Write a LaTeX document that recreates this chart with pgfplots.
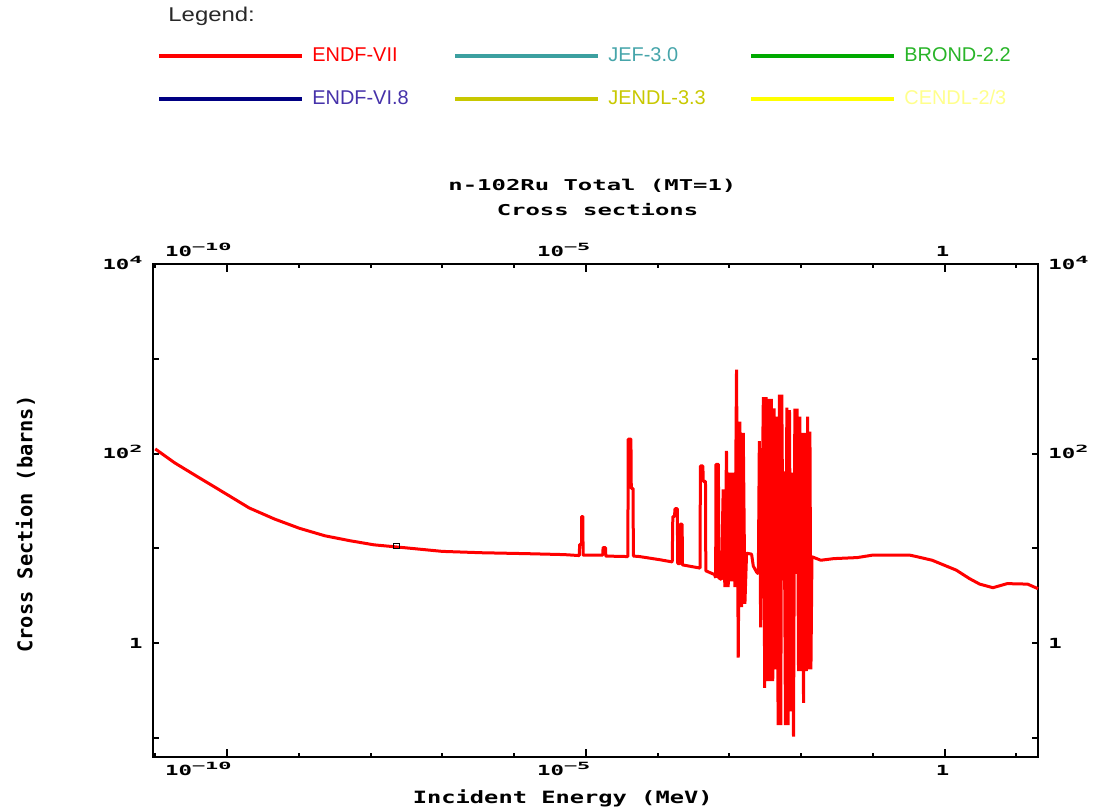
\documentclass[border=0pt]{standalone}
\usepackage{pgfplots}
\pgfplotsset{compat=1.18}
\usepackage{fontspec}
\setmainfont{Liberation Sans}
\newfontfamily\bmfont[FakeStretch=1.6]{DejaVu Sans Mono}
\newfontfamily\bmfontx[FakeStretch=1.4]{DejaVu Sans Mono}
\newfontfamily\bmsup[FakeStretch=2.2]{DejaVu Sans Mono}
\newfontfamily\ylabfont{DejaVu Sans Mono}
\newfontfamily\legwide[FakeStretch=1.2]{Liberation Sans}
\newcommand\tickfont{\bmfont\bfseries\fontsize{7}{8}\selectfont}
\newcommand\sups[1]{\raisebox{3bp}{\bmsup\bfseries\fontsize{5}{6}\selectfont #1}}
\definecolor{endfvii}{RGB}{255,0,0}
\definecolor{jefl}{RGB}{60,160,160}
\definecolor{jeft}{RGB}{70,165,170}
\definecolor{brondl}{RGB}{0,170,0}
\definecolor{brondt}{RGB}{40,180,40}
\definecolor{endfvil}{RGB}{0,0,130}
\definecolor{endfvit}{RGB}{70,50,170}
\definecolor{jendl}{RGB}{200,200,0}
\definecolor{cendll}{RGB}{255,255,0}
\definecolor{cendlt}{RGB}{255,255,140}
\definecolor{leggray}{RGB}{40,40,40}
\pgfplotsset{legend image code/.code={\draw[#1, line width=2bp] (0bp,0bp) -- (71.5bp,0bp);}}
\begin{document}
\begin{tikzpicture}
\useasboundingbox (0,0) rectangle (547.5bp,-403.5bp);
\begin{axis}[
  at={(76.5bp,-378.5bp)}, anchor=south west,
  scale only axis, width=442.5bp, height=246.5bp,
  xmode=log, ymode=log,
  xmin=9.3e-12, xmax=20, ymin=0.063, ymax=1e4,
  xtick={1e-10,1e-5,1}, xticklabels={10\sups{−10},10\sups{−5},1},
  ytick={0.1,1,10,100,1000,10000}, yticklabels={,1,,10\sups{2},,10\sups{4}},
  minor xtick={1e-11,1e-9,1e-8,1e-7,1e-6,1e-4,1e-3,1e-2,1e-1,10},
  yminorticks=false,
  axis line style={line width=1bp, black},
  tick style={black, line width=1bp},
  major tick length=4bp, minor tick length=2.2bp,
  ytick style={/pgfplots/major tick length=3.2bp},
  tick label style={font=\tickfont, inner sep=0pt},
  xticklabel pos=upper, yticklabel pos=right,
  xticklabel style={anchor=base east, xshift=2.5bp, yshift=4bp},
  yticklabel style={anchor=base west, xshift=5bp, yshift=-2.5bp},
]
\addplot[draw=none, forget plot] coordinates {(1e-6,1)};
\end{axis}
\begin{axis}[
  at={(76.5bp,-378.5bp)}, anchor=south west,
  scale only axis, width=442.5bp, height=246.5bp,
  xmode=log, ymode=log,
  xmin=9.3e-12, xmax=20, ymin=0.063, ymax=1e4,
  xtick={1e-10,1e-5,1}, xticklabels={10\sups{−10},10\sups{−5},1},
  ytick={0.1,1,10,100,1000,10000}, yticklabels={,1,,10\sups{2},,10\sups{4}},
  minor xtick={1e-11,1e-9,1e-8,1e-7,1e-6,1e-4,1e-3,1e-2,1e-1,10},
  yminorticks=false,
  axis line style={line width=1bp, black},
  tick style={black, line width=1bp},
  major tick length=4bp, minor tick length=2.2bp,
  ytick style={/pgfplots/major tick length=3.2bp},
  tick label style={font=\tickfont, inner sep=0pt},
  clip=false,
  xticklabel style={anchor=base east, xshift=2.5bp, yshift=-9bp},
  yticklabel style={anchor=base east, xshift=-5bp, yshift=-2.5bp},
  xlabel={Incident Energy (MeV)},
  xlabel style={font=\bmfontx\bfseries\fontsize{8.5}{10}\selectfont, at={(axis description cs:0.463,0)}, anchor=base, yshift=-23bp},
  ylabel={Cross Section (barns)},
  ylabel style={font=\ylabfont\bfseries\fontsize{10.2}{12}\selectfont, at={(axis description cs:-0.1364,0.4726)}, anchor=base},
  legend columns=3,
  legend style={at={(axis description cs:0.0045,1.440)}, anchor=north west, draw=none, fill=none, inner sep=0pt, column sep=4bp, row sep=12.8bp, font=\fontsize{10}{12}\selectfont, nodes={inner sep=0pt}},
]
\addplot[endfvii, line width=1.5bp, line join=bevel] coordinates {
(1e-11,112) (1.86e-11,80) (4.1e-11,55.6) (9.2e-11,38.5) (2.04e-10,26.7) (4.6e-10,20.4) (1.02e-9,16.3) (2.3e-9,13.6) (5e-9,12.1) (1.12e-8,10.9) (2.5e-8,10.3) (1e-7,9.3) (3.5e-7,9.0) (1.5e-6,8.8) (5e-6,8.6)
(8.1e-6,8.4) (8.2e-6,11) (8.7e-6,11) (8.75e-6,21.7) (9.1e-6,21.7) (9.15e-6,8.5) (1.72e-5,8.5) (1.74e-5,10.2) (1.88e-5,10.2) (1.9e-5,8.3)
(3.85e-5,8.2) (3.9e-5,142) (4.25e-5,142) (4.3e-5,43) (4.55e-5,43) (4.6e-5,8.3) (5.6e-5,8.2) (1.07e-4,7.6)
(1.6e-4,7.2) (1.63e-4,21.7) (1.72e-4,21.7) (1.75e-4,26.2) (1.88e-4,26.2) (1.91e-4,6.9) (2.05e-4,6.9) (2.07e-4,18) (2.2e-4,18) (2.22e-4,6.7)
(3.9e-4,6.2) (3.95e-4,74) (4.28e-4,74) (4.32e-4,51) (4.65e-4,51) (4.7e-4,5.8) (6.2e-4,5.3) (6.45e-4,4.9) (6.5e-4,77) (7.05e-4,77) (7.1e-4,4.9) (7.76e-4,4.7)
(8.2e-4,41.8) (8.65e-4,3.9) (9.12e-4,107) (9.64e-4,3.9) (1.016e-3,63) (1.072e-3,4.5) (1.132e-3,63) (1.194e-3,3.9) (1.259e-3,771) (1.33e-3,0.705) (1.403e-3,217) (1.479e-3,2.4) (1.563e-3,165) (1.648e-3,2.6) (1.738e-3,8.9) (2.04e-3,8.7) (2.158e-3,6.5) (2.404e-3,5.6) (2.535e-3,5.4)
(2.617e-3,135) (2.731e-3,1.47) (2.976e-3,394) (3.108e-3,0.338) (3.244e-3,394) (3.387e-3,0.398) (3.536e-3,378) (3.69e-3,0.398) (3.853e-3,378) (4.023e-3,0.398) (4.2e-3,300) (4.385e-3,0.53) (4.581e-3,245) (4.778e-3,0.137) (4.987e-3,420) (5.208e-3,0.137) (5.378e-3,420) (5.614e-3,4.6) (5.798e-3,65) (6.052e-3,0.137) (6.324e-3,305) (6.596e-3,0.137) (6.887e-3,287) (7.19e-3,0.191) (7.506e-3,63) (7.834e-3,0.1035) (8.18e-3,298) (8.54e-3,5.4) (8.819e-3,298) (9.204e-3,0.508) (9.612e-3,245) (1.0032e-2,0.508) (1.036e-2,165) (1.081e-2,0.234) (1.129e-2,165) (1.179e-2,0.508) (1.231e-2,245) (1.285e-2,0.53) (1.327e-2,171) (1.37e-2,0.53) (1.416e-2,8.17)
(1.88e-2,7.5) (2.84e-2,7.8) (6.06e-2,8.0) (0.1,8.5) (0.324,8.5) (0.404,8.2) (0.67,7.5) (0.918,6.8) (1.45,5.9) (2.22,4.8) (3.08,4.2) (4.71,3.85) (7.45,4.25) (14.3,4.2) (20,3.76)
};
\addlegendentry{\makebox[66.5bp][l]{\textcolor{endfvii}{ENDF-VII}}}
\addlegendimage{jefl}
\addlegendentry{\makebox[66.5bp][l]{\textcolor{jeft}{JEF-3.0}}}
\addlegendimage{brondl}
\addlegendentry{\makebox[66.5bp][l]{\textcolor{brondt}{BROND-2.2}}}
\addlegendimage{endfvil}
\addlegendentry{\makebox[66.5bp][l]{\textcolor{endfvit}{ENDF-VI.8}}}
\addlegendimage{jendl}
\addlegendentry{\makebox[66.5bp][l]{\textcolor{jendl}{JENDL-3.3}}}
\addlegendimage{cendll}
\addlegendentry{\makebox[66.5bp][l]{\textcolor{cendlt}{CENDL-2/3}}}
\addplot[only marks, mark=square, mark size=1.3bp, black, line width=0.5bp, forget plot] coordinates {(2.3e-8,10.5)};
\node[anchor=base west, font=\legwide\fontsize{10}{12}\selectfont, text=leggray, inner sep=0pt] at (axis description cs:0.017,1.4925) {Legend:};
\node[anchor=base, font=\bmfont\bfseries\fontsize{7.5}{9}\selectfont, inner sep=0pt] at (axis description cs:0.4965,1.150) {n-102Ru Total (MT=1)};
\node[anchor=base, font=\bmfont\bfseries\fontsize{7.5}{9}\selectfont, inner sep=0pt] at (axis description cs:0.5023,1.099) {Cross sections};
\end{axis}
\end{tikzpicture}
\end{document}
